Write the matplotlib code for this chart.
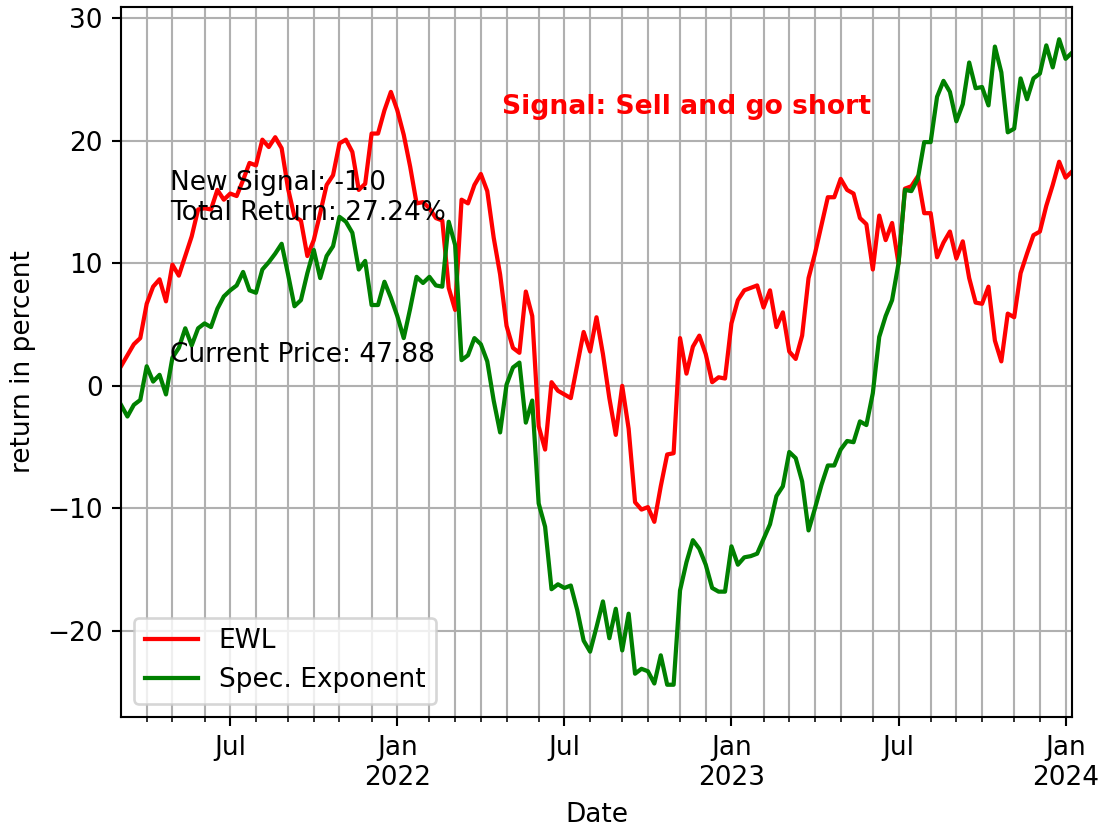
import matplotlib
matplotlib.use("Agg")
import matplotlib.pyplot as plt
import matplotlib.dates as mdates
import numpy as np
import pandas as pd

start_date = "2021-03-08"
n_weeks = 149

ewl = [1.6, 2.5, 3.4, 3.9, 6.7, 8.1, 8.7, 6.9, 9.9, 9.0,
       10.6, 12.2, 14.4, 14.5, 14.4, 16.0, 15.2, 15.7, 15.5, 16.8,
       18.2, 18.0, 20.1, 19.5, 20.3, 19.4, 16.1, 13.8, 13.5, 10.6,
       11.9, 14.1, 16.4, 17.2, 19.8, 20.1, 19.1, 16.0, 16.5, 20.6,
       20.6, 22.5, 24.0, 22.5, 20.5, 17.9, 14.9, 15.0, 14.5, 13.7,
       13.5, 8.0, 6.2, 15.2, 14.9, 16.4, 17.3, 15.9, 12.1, 9.1,
       4.9, 3.1, 2.7, 7.7, 5.7, -3.3, -5.2, 0.3, -0.4, -0.7,
       -1.0, 1.7, 4.4, 2.8, 5.6, 2.6, -1.0, -4.0, 0.0, -3.5,
       -9.5, -10.1, -9.9, -11.1, -8.2, -5.6, -5.5, 3.9, 1.0, 3.2,
       4.1, 2.6, 0.3, 0.7, 0.6, 5.1, 7.0, 7.8, 8.0, 8.2,
       6.4, 7.8, 4.8, 6.0, 2.8, 2.2, 4.1, 8.8, 10.8, 13.1,
       15.4, 15.4, 16.9, 16.0, 15.7, 13.7, 13.2, 9.5, 13.9, 11.9,
       13.3, 10.0, 16.1, 16.3, 17.1, 14.1, 14.1, 10.5, 11.7, 12.6,
       10.4, 11.8, 8.8, 6.8, 6.7, 8.1, 3.7, 2.0, 5.9, 5.6,
       9.2, 10.8, 12.3, 12.6, 14.7, 16.4, 18.3, 17.0, 17.5]

spec_exp = [-1.55, -2.5, -1.55, -1.15, 1.6, 0.35, 0.9, -0.7, 2.3, 3.1,
            4.7, 3.3, 4.7, 5.1, 4.8, 6.3, 7.3, 7.8, 8.2, 9.3,
            7.8, 7.6, 9.5, 10.1, 10.8, 11.6, 9.1, 6.5, 7.0, 9.2,
            11.1, 8.8, 10.6, 11.4, 13.8, 13.4, 12.5, 9.5, 10.2, 6.6,
            6.6, 8.5, 7.2, 5.7, 3.9, 6.3, 8.9, 8.4, 8.9, 8.2,
            8.1, 13.4, 11.5, 2.1, 2.5, 3.9, 3.4, 2.0, -1.2, -3.8,
            0.1, 1.5, 1.9, -3.0, -1.2, -9.6, -11.5, -16.6, -16.2, -16.5,
            -16.3, -18.3, -20.8, -21.7, -19.7, -17.6, -20.6, -18.2, -21.6, -18.6,
            -23.5, -23.1, -23.3, -24.3, -22.0, -24.4, -24.4, -16.7, -14.4, -12.6,
            -13.3, -14.6, -16.5, -16.8, -16.8, -13.1, -14.6, -14.0, -13.9, -13.7,
            -12.5, -11.3, -9.0, -8.2, -5.4, -5.9, -7.8, -11.8, -10.0, -8.1,
            -6.5, -6.5, -5.2, -4.5, -4.6, -2.9, -3.2, -0.6, 4.0, 5.7,
            7.0, 10.0, 16.0, 15.9, 16.9, 19.9, 19.9, 23.6, 24.9, 24.0,
            21.6, 23.0, 26.4, 24.3, 24.4, 22.9, 27.7, 25.6, 20.7, 21.0,
            25.1, 23.4, 25.1, 25.5, 27.8, 26.0, 28.3, 26.7, 27.2]

series_labels = ["EWL", "Spec. Exponent"]
signal_text = "Signal: Sell and go short"
info_text = "New Signal: -1.0\nTotal Return: 27.24%"
price_text = "Current Price: 47.88"

dates = pd.date_range(start_date, periods=n_weeks, freq="7D")

dpi = 190
fig = plt.figure(figsize=(1103 / dpi, 829 / dpi), dpi=dpi)
ax = fig.add_axes([0.1097, 0.1351, 0.9719 - 0.1097, 0.9916 - 0.1351])

ax.plot(dates, ewl, color="red", lw=1.6, label=series_labels[0])
ax.plot(dates, spec_exp, color="green", lw=1.6, label=series_labels[1])
ax.set_xlim(dates[0], dates[-1])

# month ticks at first week of each month
month_change = [i for i in range(1, len(dates)) if dates[i].month != dates[i - 1].month]
minor_pos = [mdates.date2num(dates[i]) for i in month_change if dates[i].month not in (1, 7)]
major_idx = [i for i in month_change if dates[i].month in (1, 7)]
major_pos = [mdates.date2num(dates[i]) for i in major_idx]
major_lab = ["Jan\n%d" % dates[i].year if dates[i].month == 1 else "Jul" for i in major_idx]
ax.set_xticks(major_pos)
ax.set_xticklabels(major_lab)
ax.set_xticks(minor_pos, minor=True)
ax.grid(True, which="both")

ax.set_xlabel("Date")
ax.set_ylabel("return in percent")

ax.text(0.4006, 0.849, signal_text, transform=ax.transAxes, color="red",
        fontweight="bold", fontsize=10.1)
ax.text(0.0515, 0.700, info_text, transform=ax.transAxes)
ax.text(0.0515, 0.5004, price_text, transform=ax.transAxes)

ax.legend(loc="lower left")

fig.savefig("out.png", dpi=dpi)
